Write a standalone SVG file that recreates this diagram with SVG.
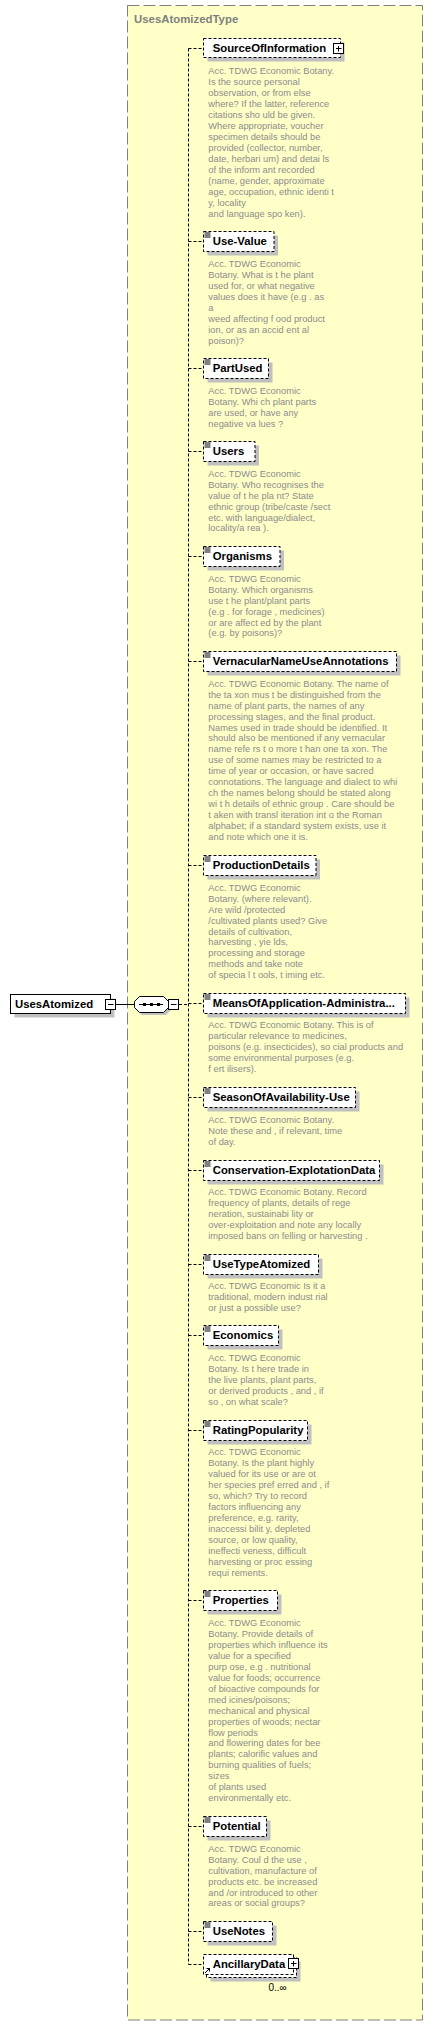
<svg xmlns="http://www.w3.org/2000/svg" width="433" height="2026" viewBox="0 0 433 2026">
<style>
.frame{fill:#ffffc8;stroke:#808080;stroke-width:1;stroke-dasharray:12 4}
.ttl{font-family:"Liberation Sans",Arial,sans-serif;font-weight:bold;font-size:11.4px;fill:#808080}
.box{fill:#fff;stroke:#000;stroke-width:1;stroke-dasharray:3 2}
.sbox{fill:#fff;stroke:#000;stroke-width:1}
.shadow{fill:#c0c0c0}
.name{font-family:"Liberation Sans",Arial,sans-serif;font-weight:bold;font-size:11.35px;fill:#000}
.doc{font-family:"Liberation Sans",Arial,sans-serif;font-size:9.3px;fill:#8c8c8c}
.conn{stroke:#000;stroke-width:1;fill:none;stroke-dasharray:3 2}
.solid{stroke:#000;stroke-width:1;fill:none}
.ico{stroke:#000;stroke-width:1;fill:none}
.occ{font-family:"Liberation Sans",Arial,sans-serif;font-size:10px;fill:#000}
</style>
<defs>
<g id="docicon"><path class="ico" d="M1,1.5H7M1,3.5H7M1,5.5H7"/></g>
<g id="plus"><rect x="0.5" y="0.5" width="10" height="10" fill="#fff" stroke="#000"/><path d="M3,5.5H8.5M5.5,3V8.5" stroke="#000"/></g>
</defs>

<rect class="frame" x="127.5" y="5.5" width="295" height="2014.5"/>
<text class="ttl" x="134" y="22.7">UsesAtomizedType</text>

<g id="connectors">
<path class="solid" d="M116,1004.5H134"/>
<path class="conn" d="M179,1004.5H188.5"/>
<path class="conn" d="M188.5,48.5V1964.5"/>
<path class="conn" d="M188.5,48.5H203.5M188.5,241.5H203.5M188.5,368.5H203.5M188.5,451.5H203.5M188.5,556.5H203.5M188.5,661.5H203.5M188.5,865.5H203.5M188.5,1003.5H203.5M188.5,1097.5H203.5M188.5,1170.5H203.5M188.5,1264.5H203.5M188.5,1335.5H203.5M188.5,1430.5H203.5M188.5,1600.5H203.5M188.5,1826.5H203.5M188.5,1931.5H203.5M188.5,1964.5H203.5"/>
</g>

<g id="UsesAtomized">
<rect class="shadow" x="14.5" y="998.5" width="100" height="19"/>
<rect class="sbox" x="10.5" y="994.5" width="100" height="19"/>
<text class="name" x="15" y="1008">UsesAtomized</text>
<rect x="105.5" y="999.5" width="10" height="10" fill="#fff" stroke="#000"/>
<path d="M108,1004.5H113.5" stroke="#000"/>
</g>

<g id="sequence">
<path class="shadow" d="M142,999H166L171,1004V1010L166,1015H142L137,1010V1004Z"/>
<path fill="#fff" stroke="#000" d="M139.5,996.5H163.5L168.5,1001.5V1007.5L163.5,1012.5H139.5L134.5,1007.5V1001.5Z"/>
<path d="M139,1004.5H163" stroke="#000"/>
<rect x="143" y="1003" width="3" height="3" fill="#000"/>
<rect x="150" y="1003" width="3" height="3" fill="#000"/>
<rect x="157" y="1003" width="3" height="3" fill="#000"/>
<rect x="168.5" y="999.5" width="10" height="10" fill="#fff" stroke="#000"/>
<path d="M171,1004.5H176.5" stroke="#000"/>
</g>

<g id="SourceOfInformation">
<rect class="shadow" x="207.5" y="42.5" width="137" height="19"/>
<rect class="box" x="203.5" y="38.5" width="137" height="19"/>
<text class="name" x="212.7" y="51.7">SourceOfInformation</text>
<use href="#plus" x="333" y="43"/>
<text class="doc" x="208.3" y="74.3"><tspan x="208.3">Acc. TDWG Economic Botany.</tspan><tspan x="208.3" dy="10.95">Is the source personal</tspan><tspan x="208.3" dy="10.95">observation, or from else</tspan><tspan x="208.3" dy="10.95">where? If the latter, reference</tspan><tspan x="208.3" dy="10.95">citations sho uld be given.</tspan><tspan x="208.3" dy="10.95">Where appropriate, voucher</tspan><tspan x="208.3" dy="10.95">specimen details should be</tspan><tspan x="208.3" dy="10.95">provided (collector, number,</tspan><tspan x="208.3" dy="10.95">date, herbari um) and detai ls</tspan><tspan x="208.3" dy="10.95">of the inform ant recorded</tspan><tspan x="208.3" dy="10.95">(name, gender, approximate</tspan><tspan x="208.3" dy="10.95">age, occupation, ethnic identi t</tspan><tspan x="208.3" dy="10.95">y, locality</tspan><tspan x="208.3" dy="10.95">and language spo ken).</tspan></text>
</g>

<g id="Use-Value">
<rect class="shadow" x="207.5" y="235.5" width="70.5" height="20"/>
<rect class="box" x="203.5" y="231.5" width="70.5" height="20"/>
<use href="#docicon" x="203.5" y="231.5"/>
<text class="name" x="212.7" y="244.5">Use-Value</text>
<text class="doc" x="208.3" y="267.3"><tspan x="208.3">Acc. TDWG Economic</tspan><tspan x="208.3" dy="10.95">Botany. What is t he plant</tspan><tspan x="208.3" dy="10.95">used for, or what negative</tspan><tspan x="208.3" dy="10.95">values does it have (e.g . as</tspan><tspan x="208.3" dy="10.95">a</tspan><tspan x="208.3" dy="10.95">weed affecting f ood product</tspan><tspan x="208.3" dy="10.95">ion, or as an accid ent al</tspan><tspan x="208.3" dy="10.95">poison)?</tspan></text>
</g>

<g id="PartUsed">
<rect class="shadow" x="207.5" y="362.5" width="65" height="20"/>
<rect class="box" x="203.5" y="358.5" width="65" height="20"/>
<use href="#docicon" x="203.5" y="358.5"/>
<text class="name" x="212.7" y="371.5">PartUsed</text>
<text class="doc" x="208.3" y="394"><tspan x="208.3">Acc. TDWG Economic</tspan><tspan x="208.3" dy="10.95">Botany. Whi ch plant parts</tspan><tspan x="208.3" dy="10.95">are used, or have any</tspan><tspan x="208.3" dy="10.95">negative va lues ?</tspan></text>
</g>

<g id="Users">
<rect class="shadow" x="207.5" y="445.5" width="51.5" height="20"/>
<rect class="box" x="203.5" y="441.5" width="51.5" height="20"/>
<use href="#docicon" x="203.5" y="441.5"/>
<text class="name" x="212.7" y="454.5">Users</text>
<text class="doc" x="208.3" y="476.7"><tspan x="208.3">Acc. TDWG Economic</tspan><tspan x="208.3" dy="10.95">Botany. Who recognises the</tspan><tspan x="208.3" dy="10.95">value of t he pla nt? State</tspan><tspan x="208.3" dy="10.95">ethnic group (tribe/caste /sect</tspan><tspan x="208.3" dy="10.95">etc. with language/dialect,</tspan><tspan x="208.3" dy="10.95">locality/a rea ).</tspan></text>
</g>

<g id="Organisms">
<rect class="shadow" x="207.5" y="550.5" width="76.5" height="20"/>
<rect class="box" x="203.5" y="546.5" width="76.5" height="20"/>
<use href="#docicon" x="203.5" y="546.5"/>
<text class="name" x="212.7" y="559.5">Organisms</text>
<text class="doc" x="208.3" y="581.7"><tspan x="208.3">Acc. TDWG Economic</tspan><tspan x="208.3" dy="10.95">Botany. Which organisms</tspan><tspan x="208.3" dy="10.95">use t he plant/plant parts</tspan><tspan x="208.3" dy="10.95">(e.g . for forage , medicines)</tspan><tspan x="208.3" dy="10.95">or are affect ed by the plant</tspan><tspan x="208.3" dy="10.95">(e.g. by poisons)?</tspan></text>
</g>

<g id="VernacularNameUseAnnotations">
<rect class="shadow" x="207.5" y="655.5" width="193" height="20"/>
<rect class="box" x="203.5" y="651.5" width="193" height="20"/>
<use href="#docicon" x="203.5" y="651.5"/>
<text class="name" x="212.7" y="664.5">VernacularNameUseAnnotations</text>
<text class="doc" x="208.3" y="686.7"><tspan x="208.3">Acc. TDWG Economic Botany. The name of</tspan><tspan x="208.3" dy="10.95">the ta xon mus t be distinguished from the</tspan><tspan x="208.3" dy="10.95">name of plant parts, the names of any</tspan><tspan x="208.3" dy="10.95">processing stages, and the final product.</tspan><tspan x="208.3" dy="10.95">Names used in trade should be identified. It</tspan><tspan x="208.3" dy="10.95">should also be mentioned if any vernacular</tspan><tspan x="208.3" dy="10.95">name refe rs t o more t han one ta xon. The</tspan><tspan x="208.3" dy="10.95">use of some names may be restricted to a</tspan><tspan x="208.3" dy="10.95">time of year or occasion, or have sacred</tspan><tspan x="208.3" dy="10.95">connotations. The language and dialect to whi</tspan><tspan x="208.3" dy="10.95">ch the names belong should be stated along</tspan><tspan x="208.3" dy="10.95">wi t h details of ethnic group . Care should be</tspan><tspan x="208.3" dy="10.95">t aken with transl iteration int o the Roman</tspan><tspan x="208.3" dy="10.95">alphabet; if a standard system exists, use it</tspan><tspan x="208.3" dy="10.95">and note which one it is.</tspan></text>
</g>

<g id="ProductionDetails">
<rect class="shadow" x="207.5" y="859.5" width="112.5" height="20"/>
<rect class="box" x="203.5" y="855.5" width="112.5" height="20"/>
<use href="#docicon" x="203.5" y="855.5"/>
<text class="name" x="212.7" y="868.5">ProductionDetails</text>
<text class="doc" x="208.3" y="890.7"><tspan x="208.3">Acc. TDWG Economic</tspan><tspan x="208.3" dy="10.95">Botany. (where relevant).</tspan><tspan x="208.3" dy="10.95">Are wild /protected</tspan><tspan x="208.3" dy="10.95">/cultivated plants used? Give</tspan><tspan x="208.3" dy="10.95">details of cultivation,</tspan><tspan x="208.3" dy="10.95">harvesting , yie lds,</tspan><tspan x="208.3" dy="10.95">processing and storage</tspan><tspan x="208.3" dy="10.95">methods and take note</tspan><tspan x="208.3" dy="10.95">of specia l t ools, t iming etc.</tspan></text>
</g>

<g id="MeansOfApplication-Administration">
<rect class="shadow" x="207.5" y="997.5" width="202" height="20"/>
<rect class="box" x="203.5" y="993.5" width="202" height="20"/>
<use href="#docicon" x="203.5" y="993.5"/>
<text class="name" x="212.7" y="1006.5">MeansOfApplication-Administra...</text>
<text class="doc" x="208.3" y="1028.3"><tspan x="208.3">Acc. TDWG Economic Botany. This is of</tspan><tspan x="208.3" dy="10.95">particular relevance to medicines,</tspan><tspan x="208.3" dy="10.95">poisons (e.g. insecticides), so cial products and</tspan><tspan x="208.3" dy="10.95">some environmental purposes (e.g.</tspan><tspan x="208.3" dy="10.95">f ert ilisers).</tspan></text>
</g>

<g id="SeasonOfAvailability-Use">
<rect class="shadow" x="207.5" y="1091.5" width="152" height="20"/>
<rect class="box" x="203.5" y="1087.5" width="152" height="20"/>
<use href="#docicon" x="203.5" y="1087.5"/>
<text class="name" x="212.7" y="1100.5">SeasonOfAvailability-Use</text>
<text class="doc" x="208.3" y="1123.3"><tspan x="208.3">Acc. TDWG Economic Botany.</tspan><tspan x="208.3" dy="10.95">Note these and , if relevant, time</tspan><tspan x="208.3" dy="10.95">of day.</tspan></text>
</g>

<g id="Conservation-ExplotationData">
<rect class="shadow" x="207.5" y="1164.5" width="176" height="20"/>
<rect class="box" x="203.5" y="1160.5" width="176" height="20"/>
<use href="#docicon" x="203.5" y="1160.5"/>
<text class="name" x="212.7" y="1173.5">Conservation-ExplotationData</text>
<text class="doc" x="208.3" y="1194.8"><tspan x="208.3">Acc. TDWG Economic Botany. Record</tspan><tspan x="208.3" dy="10.95">frequency of plants, details of rege</tspan><tspan x="208.3" dy="10.95">neration, sustainabi lity or</tspan><tspan x="208.3" dy="10.95">over-exploitation and note any locally</tspan><tspan x="208.3" dy="10.95">imposed bans on felling or harvesting .</tspan></text>
</g>

<g id="UseTypeAtomized">
<rect class="shadow" x="207.5" y="1258.5" width="115" height="20"/>
<rect class="box" x="203.5" y="1254.5" width="115" height="20"/>
<use href="#docicon" x="203.5" y="1254.5"/>
<text class="name" x="212.7" y="1267.5">UseTypeAtomized</text>
<text class="doc" x="208.3" y="1288.8"><tspan x="208.3">Acc. TDWG Economic Is it a</tspan><tspan x="208.3" dy="10.95">traditional, modern indust rial</tspan><tspan x="208.3" dy="10.95">or just a possible use?</tspan></text>
</g>

<g id="Economics">
<rect class="shadow" x="207.5" y="1329.5" width="75" height="20"/>
<rect class="box" x="203.5" y="1325.5" width="75" height="20"/>
<use href="#docicon" x="203.5" y="1325.5"/>
<text class="name" x="212.7" y="1338.5">Economics</text>
<text class="doc" x="208.3" y="1361"><tspan x="208.3">Acc. TDWG Economic</tspan><tspan x="208.3" dy="10.95">Botany. Is t here trade in</tspan><tspan x="208.3" dy="10.95">the live plants, plant parts,</tspan><tspan x="208.3" dy="10.95">or derived products , and , if</tspan><tspan x="208.3" dy="10.95">so , on what scale?</tspan></text>
</g>

<g id="RatingPopularity">
<rect class="shadow" x="207.5" y="1424.5" width="104" height="20"/>
<rect class="box" x="203.5" y="1420.5" width="104" height="20"/>
<use href="#docicon" x="203.5" y="1420.5"/>
<text class="name" x="212.7" y="1433.5">RatingPopularity</text>
<text class="doc" x="208.3" y="1455.3"><tspan x="208.3">Acc. TDWG Economic</tspan><tspan x="208.3" dy="10.95">Botany. Is the plant highly</tspan><tspan x="208.3" dy="10.95">valued for its use or are ot</tspan><tspan x="208.3" dy="10.95">her species pref erred and , if</tspan><tspan x="208.3" dy="10.95">so, which? Try to record</tspan><tspan x="208.3" dy="10.95">factors influencing any</tspan><tspan x="208.3" dy="10.95">preference, e.g. rarity,</tspan><tspan x="208.3" dy="10.95">inaccessi bilit y, depleted</tspan><tspan x="208.3" dy="10.95">source, or low quality,</tspan><tspan x="208.3" dy="10.95">ineffecti veness, difficult</tspan><tspan x="208.3" dy="10.95">harvesting or proc essing</tspan><tspan x="208.3" dy="10.95">requi rements.</tspan></text>
</g>

<g id="Properties">
<rect class="shadow" x="207.5" y="1594.5" width="74" height="20"/>
<rect class="box" x="203.5" y="1590.5" width="74" height="20"/>
<use href="#docicon" x="203.5" y="1590.5"/>
<text class="name" x="212.7" y="1603.5">Properties</text>
<text class="doc" x="208.3" y="1626"><tspan x="208.3">Acc. TDWG Economic</tspan><tspan x="208.3" dy="10.95">Botany. Provide details of</tspan><tspan x="208.3" dy="10.95">properties which influence its</tspan><tspan x="208.3" dy="10.95">value for a specified</tspan><tspan x="208.3" dy="10.95">purp ose, e.g . nutritional</tspan><tspan x="208.3" dy="10.95">value for foods; occurrence</tspan><tspan x="208.3" dy="10.95">of bioactive compounds for</tspan><tspan x="208.3" dy="10.95">med icines/poisons;</tspan><tspan x="208.3" dy="10.95">mechanical and physical</tspan><tspan x="208.3" dy="10.95">properties of woods; nectar</tspan><tspan x="208.3" dy="10.95">flow periods</tspan><tspan x="208.3" dy="10.95">and flowering dates for bee</tspan><tspan x="208.3" dy="10.95">plants; calorific values and</tspan><tspan x="208.3" dy="10.95">burning qualities of fuels;</tspan><tspan x="208.3" dy="10.95">sizes</tspan><tspan x="208.3" dy="10.95">of plants used</tspan><tspan x="208.3" dy="10.95">environmentally etc.</tspan></text>
</g>

<g id="Potential">
<rect class="shadow" x="207.5" y="1820.5" width="63" height="20"/>
<rect class="box" x="203.5" y="1816.5" width="63" height="20"/>
<use href="#docicon" x="203.5" y="1816.5"/>
<text class="name" x="212.7" y="1829.5">Potential</text>
<text class="doc" x="208.3" y="1851.7"><tspan x="208.3">Acc. TDWG Economic</tspan><tspan x="208.3" dy="10.95">Botany. Coul d the use ,</tspan><tspan x="208.3" dy="10.95">cultivation, manufacture of</tspan><tspan x="208.3" dy="10.95">products etc. be increased</tspan><tspan x="208.3" dy="10.95">and /or introduced to other</tspan><tspan x="208.3" dy="10.95">areas or social groups?</tspan></text>
</g>

<g id="UseNotes">
<rect class="shadow" x="207.5" y="1925.5" width="69" height="20"/>
<rect class="box" x="203.5" y="1921.5" width="69" height="20"/>
<use href="#docicon" x="203.5" y="1921.5"/>
<text class="name" x="212.7" y="1934.5">UseNotes</text>
</g>

<g id="AncillaryData">
<rect class="shadow" x="210.5" y="1961.5" width="90" height="20"/>
<rect class="box" x="206.5" y="1957.5" width="90" height="20"/>
<rect class="box" x="203.5" y="1954.5" width="90" height="20"/>
<text class="name" x="212.7" y="1967.5">AncillaryData</text>
<use href="#plus" x="288" y="1958"/>
<path d="M205,1973L209.5,1968.5M206.5,1968.5H209.5V1971.5" stroke="#000" fill="none"/>
<text class="occ" x="268.5" y="1990.5">0..∞</text>
</g>
</svg>
